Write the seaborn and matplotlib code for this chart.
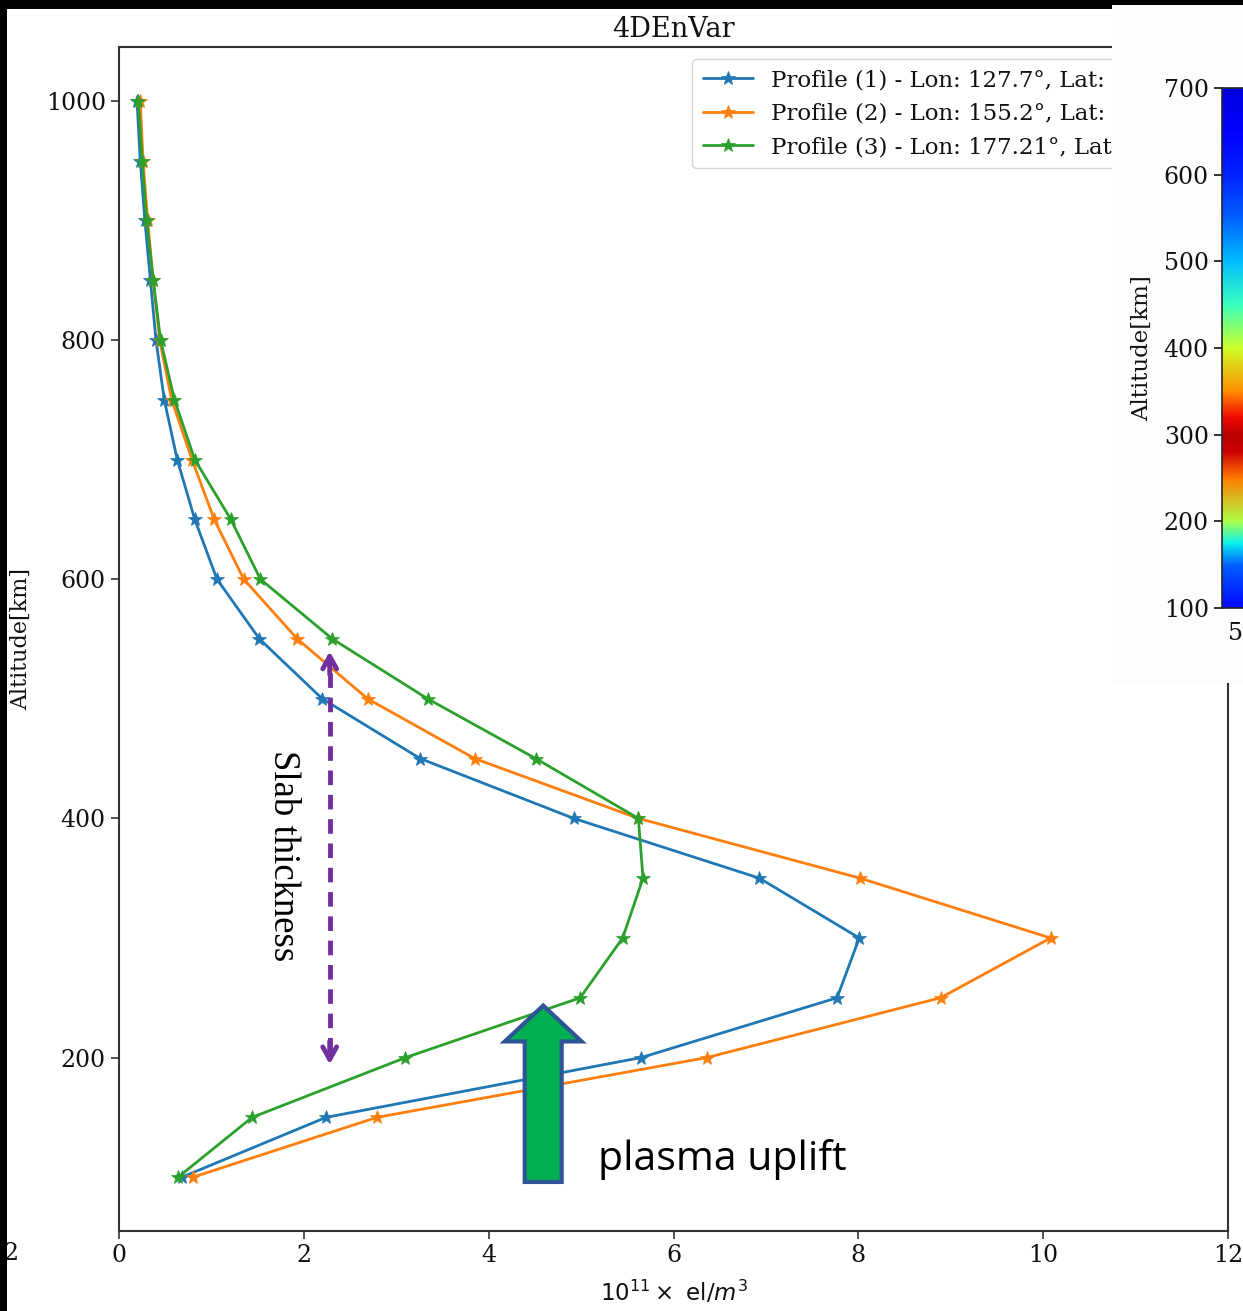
import numpy as np
import pandas as pd
import matplotlib
matplotlib.use("Agg")
import matplotlib.pyplot as plt
from matplotlib.patches import Rectangle, FancyArrow
import seaborn as sns

# ---------------- data ----------------
altitude = [100, 150, 200, 250, 300, 350, 400, 450, 500, 550, 600, 650, 700,
            750, 800, 850, 900, 950, 1000]
profile1 = [0.68, 2.24, 5.65, 7.77, 8.01, 6.93, 4.92, 3.26, 2.20, 1.52, 1.06,
            0.82, 0.63, 0.49, 0.40, 0.34, 0.28, 0.23, 0.195]
profile2 = [0.80, 2.79, 6.36, 8.89, 10.08, 8.02, 5.62, 3.85, 2.69, 1.93, 1.35,
            1.03, 0.79, 0.57, 0.44, 0.37, 0.31, 0.26, 0.23]
profile3 = [0.64, 1.44, 3.10, 4.99, 5.45, 5.67, 5.62, 4.51, 3.34, 2.31, 1.53,
            1.21, 0.82, 0.60, 0.45, 0.37, 0.30, 0.25, 0.21]
labels = ["Profile (1) - Lon: 127.7°, Lat:",
          "Profile (2) - Lon: 155.2°, Lat:",
          "Profile (3) - Lon: 177.21°, Lat"]
colors = ["#1f77b4", "#ff7f0e", "#2ca02c"]
x_ticks = [0, 2, 4, 6, 8, 10, 12]
y_ticks = [200, 400, 600, 800, 1000]

# colorbar strip (altitude -> jet position)
cbar_alt = [100, 150, 175, 200, 250, 280, 300, 320, 350, 400, 450, 500, 550, 600, 650, 700]
cbar_val = [0.13, 0.22, 0.36, 0.56, 0.78, 0.93, 0.95, 0.90, 0.76, 0.60, 0.42, 0.31, 0.22, 0.16, 0.12, 0.08]
cbar_ticks = [100, 200, 300, 400, 500, 600, 700]

# ---------------- style ----------------
sns.set_style("ticks")
plt.rcParams["font.family"] = ["DejaVu Serif", "DejaVu Sans"]
plt.rcParams["mathtext.fontset"] = "dejavusans"
plt.rcParams["text.color"] = "#111111"
plt.rcParams["axes.labelcolor"] = "#111111"
plt.rcParams["xtick.color"] = "#111111"
plt.rcParams["ytick.color"] = "#111111"

W, H = 1243, 1311
fig = plt.figure(figsize=(W / 100, H / 100), dpi=100)
fig.patch.set_facecolor("white")

def fx(px):
    return px / W

def fy(py):
    return 1 - py / H

ax = fig.add_axes([fx(119), fy(1231), fx(1228) - fx(119), fy(47) - fy(1231)])

df = pd.DataFrame({
    "alt": altitude * 3,
    "dens": profile1 + profile2 + profile3,
    "profile": [labels[0]] * len(altitude) + [labels[1]] * len(altitude) + [labels[2]] * len(altitude),
})
for lab, col in zip(labels, colors):
    sub = df[df["profile"] == lab]
    sns.lineplot(data=sub, x="dens", y="alt", sort=False, estimator=None,
                 color=col, marker="*", markersize=10, markeredgecolor=col,
                 markeredgewidth=0.5, linewidth=2, label=lab, ax=ax)

ax.set_xlim(0, 12)
ax.set_ylim(55, 1045)
ax.set_xticks(x_ticks)
ax.set_yticks(y_ticks)
ax.tick_params(axis="both", labelsize=17, length=6, width=1.2, color="#333333")
for s in ax.spines.values():
    s.set_linewidth(1.5)
    s.set_color("#333333")
ax.set_title("4DEnVar", fontsize=19.5, pad=7)
ax.set_ylabel("Altitude[km]", fontsize=16, labelpad=10)
ax.set_xlabel(r"$10^{11}\times$ el/$m^3$", fontsize=16.5, family="DejaVu Sans", labelpad=8)

leg = ax.legend(loc="upper left", bbox_to_anchor=(0.517, 0.990), borderaxespad=0,
                fontsize=16.5, handlelength=2.2, labelspacing=0.5, borderpad=0.45)

# ---- annotations ----
# slab thickness dashed double arrow
ax.plot([2.28, 2.28], [205, 530], color="#7030A0", lw=3.5, ls=(0, (3, 2)), zorder=6)
ax.annotate("", xy=(2.28, 542), xytext=(2.28, 518),
            arrowprops=dict(arrowstyle="->,head_length=0.9,head_width=0.5",
                            color="#7030A0", lw=3.5), zorder=6)
ax.annotate("", xy=(2.28, 192), xytext=(2.28, 216),
            arrowprops=dict(arrowstyle="->,head_length=0.9,head_width=0.5",
                            color="#7030A0", lw=3.5), zorder=6)
ax.text(1.775, 369, "Slab thickness", rotation=-90, ha="center", va="center",
        fontsize=26.5, family="Liberation Serif", color="black", zorder=6)

# plasma uplift block arrow
ax.add_patch(FancyArrow(4.59, 96, 0, 147.5, width=0.40, head_width=0.83,
                        head_length=30, length_includes_head=True,
                        facecolor="#00B050", edgecolor="#2F5597", linewidth=3,
                        zorder=7))
ax.text(5.18, 115, "plasma uplift", ha="left", va="center", fontsize=29.5,
        family="Open Sans", color="black", zorder=7)

# ---- pasted colorbar panel ----
fig.patches.append(Rectangle((fx(1112), fy(683)), fx(1243) - fx(1112), fy(6) - fy(683),
                             transform=fig.transFigure, facecolor="#fdfdfd",
                             edgecolor="none", zorder=5))
cax = fig.add_axes([fx(1222), fy(608), 0.045, fy(88) - fy(608)], zorder=10)
xx = np.array([0, 1])
yy = np.array(cbar_alt)
cc = np.array([cbar_val, cbar_val]).T
cax.pcolormesh(xx, yy, cc, cmap="jet", vmin=0, vmax=1, shading="gouraud")
cax.set_ylim(100, 700)
cax.set_xlim(0, 1)
cax.set_xticks([])
cax.set_yticks(cbar_ticks)
cax.tick_params(axis="y", labelsize=17, length=6, width=1.2)
cax.set_ylabel("Altitude[km]", fontsize=16.5, labelpad=8)
for s in cax.spines.values():
    s.set_linewidth(1.2)
fig.text(fx(1228), fy(633), "5", fontsize=17, ha="left", va="center", zorder=11)

# stray tick label from neighbouring panel
fig.text(fx(3), fy(1253), "2", fontsize=17, ha="left", va="center", zorder=4)

# ---- black screenshot borders ----
fig.patches.append(Rectangle((0, 0), fx(7), 1, transform=fig.transFigure,
                             facecolor="black", edgecolor="none", zorder=20))
fig.patches.append(Rectangle((0, fy(9)), fx(1112), 1 - fy(9), transform=fig.transFigure,
                             facecolor="black", edgecolor="none", zorder=20))
fig.patches.append(Rectangle((fx(1112), fy(5)), 1 - fx(1112), 1 - fy(5), transform=fig.transFigure,
                             facecolor="black", edgecolor="none", zorder=20))

fig.savefig("out.png", dpi=100)
